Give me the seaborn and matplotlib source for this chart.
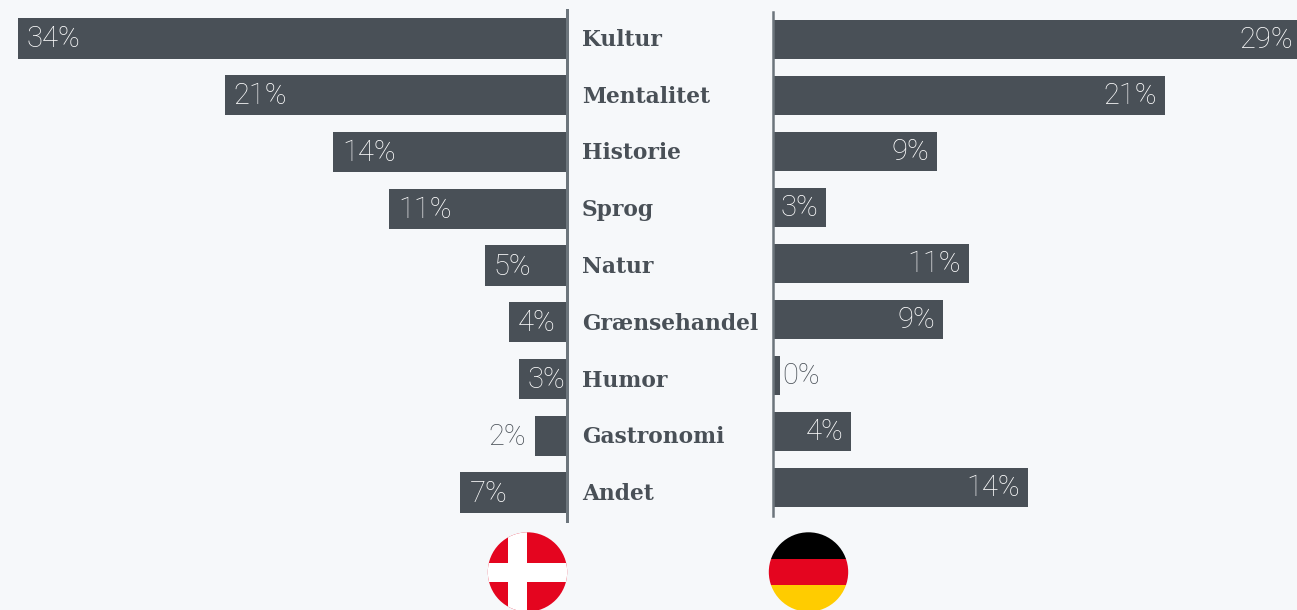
import matplotlib
matplotlib.use("Agg")
import matplotlib.pyplot as plt
import matplotlib.patches as patches
from matplotlib.transforms import ScaledTranslation
import pandas as pd
import seaborn as sns

categories = ["Kultur", "Mentalitet", "Historie", "Sprog", "Natur",
              "Grænsehandel", "Humor", "Gastronomi", "Andet"]
# bar lengths, labels as printed
dk_values = [34.0, 21.2, 14.5, 11.0, 5.1, 3.6, 3.0, 2.0, 6.6]
de_values = [29.0, 21.0, 8.8, 2.85, 10.5, 9.1, 0.37, 4.2, 13.65]
dk_labels = ["34%", "21%", "14%", "11%", "5%", "4%", "3%", "2%", "7%"]
de_labels = ["29%", "21%", "9%", "3%", "11%", "9%", "0%", "4%", "14%"]

BG = "#f6f8fa"
BAR = "#495057"
LINE = "#6c757c"
W, H = 1297, 610

sns.set_theme(style="white", rc={"axes.facecolor": "none", "figure.facecolor": BG})
plt.rcParams["font.family"] = ["Roboto", "DejaVu Sans"]

fig = plt.figure(figsize=(W / 100, H / 100), dpi=100)


def make_ax(x0, x1, y0, y1):
    return fig.add_axes([x0 / W, 1 - y1 / H, (x1 - x0) / W, (y1 - y0) / H])


def px_pts(px):
    return px * 72 / 100


def put_label(ax, text, x, i, dx, ha, color):
    ax.annotate(text, (x, i), xytext=(px_pts(dx), px_pts(-1)), textcoords="offset points",
                ha=ha, va="center", fontsize=21, color=color, fontweight="light")


# Denmark, bars grow to the left
ax_dk = make_ax(0, 567, 10.1, 520.9)
df_dk = pd.DataFrame({"cat": categories, "val": dk_values})
sns.barplot(data=df_dk, y="cat", x="val", color=BAR, saturation=1, width=0.713,
            linewidth=0, ax=ax_dk)
ax_dk.set_xlim(567 / 16.15, 0)
ax_dk.set(xlabel="", ylabel="", xticks=[])
ax_dk.yaxis.tick_right()
ax_dk.tick_params(axis="y", length=0, pad=px_pts(15))
nudge = ScaledTranslation(0, 1 / 100, fig.dpi_scale_trans)
for lab in ax_dk.get_yticklabels():
    lab.set_family("DejaVu Serif")
    lab.set_weight("bold")
    lab.set_fontsize(15.7)
    lab.set_color(BAR)
    lab.set_transform(lab.get_transform() + nudge)
for s in ["top", "bottom", "left"]:
    ax_dk.spines[s].set_visible(False)
ax_dk.spines["right"].set_color(LINE)
ax_dk.spines["right"].set_linewidth(px_pts(3))

for i, (v, t) in enumerate(zip(dk_values, dk_labels)):
    if t == "2%":
        put_label(ax_dk, t, v, i, -9, "right", BAR)
    else:
        put_label(ax_dk, t, v, i, 9, "left", "white")

# Germany, bars grow to the right, first one runs off the edge
ax_de = make_ax(773, 1297, 11.5, 515.5)
df_de = pd.DataFrame({"cat": categories, "val": de_values})
sns.barplot(data=df_de, y="cat", x="val", color=BAR, saturation=1, width=0.70,
            linewidth=0, ax=ax_de)
de_max = 524 / 18.67
ax_de.set_xlim(0, de_max)
ax_de.set(xlabel="", ylabel="", xticks=[], yticks=[])
for s in ["top", "bottom", "right"]:
    ax_de.spines[s].set_visible(False)
ax_de.spines["left"].set_color(LINE)
ax_de.spines["left"].set_linewidth(px_pts(2.5))

for i, (v, t) in enumerate(zip(de_values, de_labels)):
    if t == "0%":
        put_label(ax_de, t, v, i, 2, "left", BAR)
    elif v > de_max:
        put_label(ax_de, t, de_max, i, -4, "right", "white")
    else:
        put_label(ax_de, t, v, i, -8, "right", "white")

# flags, in pixel coordinates
ax_f = fig.add_axes([0, 0, 1, 1], zorder=5)
ax_f.set_xlim(0, W)
ax_f.set_ylim(H, 0)
ax_f.axis("off")


def flag(cx, cy, r, rects):
    clip = patches.Circle((cx, cy), r, transform=ax_f.transData, fc="none", ec="none")
    ax_f.add_patch(clip)
    for x, y, w, h, c in rects:
        p = patches.Rectangle((x, y), w, h, fc=c, ec="none")
        ax_f.add_patch(p)
        p.set_clip_path(clip)


red = "#e4051f"
flag(527.5, 572, 39.7, [
    (480, 525, 100, 90, red),
    (508, 525, 19, 90, "white"),
    (480, 563, 100, 19, "white"),
])
flag(808.5, 572, 39.7, [
    (760, 525, 100, 34, "black"),
    (760, 559, 100, 26, red),
    (760, 585, 100, 30, "#ffcc00"),
])

fig.savefig("out.png", dpi=100, facecolor=BG)
